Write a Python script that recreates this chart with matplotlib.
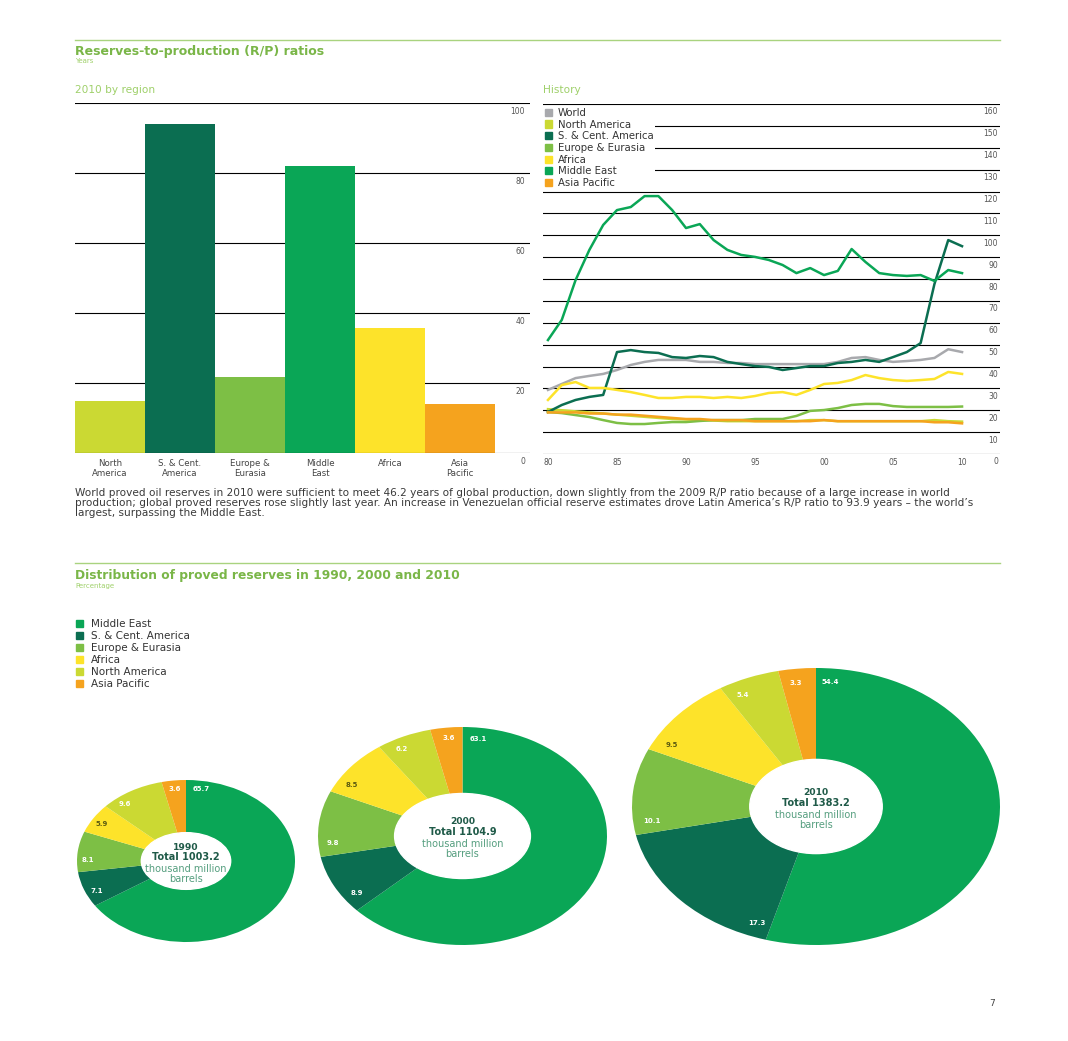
import numpy as np
import matplotlib.pyplot as plt
from matplotlib.patches import Ellipse, Patch

# colours
c_me = '#0aa656'
c_sc = '#0b6e51'
c_ee = '#7dbf45'
c_af = '#fde32a'
c_na = '#cbd933'
c_ap = '#f5a31e'
c_wo = '#a8a9ad'
c_title = '#7ab648'
c_light = '#9fd06a'

# bar chart: 2010 by region
regions = ['North\nAmerica', 'S. & Cent.\nAmerica', 'Europe &\nEurasia', 'Middle\nEast', 'Africa', 'Asia\nPacific']
rp_2010 = [14.8, 93.9, 21.7, 82.0, 35.8, 14.0]
bar_colors = [c_na, c_sc, c_ee, c_me, c_af, c_ap]

# history 1980-2010
years = list(range(1980, 2011))
hist_world = [29.3, 32.0, 34.7, 35.7, 36.6, 38.4, 40.7, 42.1, 43.0, 43.0, 43.0, 42.1, 42.1, 41.6, 41.6,
              41.1, 41.1, 41.1, 41.1, 41.1, 41.1, 42.1, 43.9, 44.3, 43.0, 42.1, 42.5, 43.0, 43.9, 47.9, 46.6]
hist_na = [20.5, 20.0, 19.5, 19.0, 18.5, 18.0, 17.5, 17.0, 16.5, 16.0, 15.8, 15.5, 15.3, 15.0, 15.0,
           15.0, 15.0, 15.0, 15.0, 15.5, 15.5, 15.0, 15.0, 15.0, 15.0, 15.0, 15.0, 15.0, 15.5, 15.0, 14.8]
hist_sc = [19.2, 22.4, 24.7, 26.1, 27.0, 46.6, 47.5, 46.6, 46.2, 44.3, 43.9, 44.8, 44.3, 42.1, 41.1,
           40.2, 39.8, 38.4, 39.3, 40.2, 40.2, 41.6, 42.1, 43.0, 42.1, 44.3, 46.6, 50.7, 77.7, 97.8, 95.0]
hist_ee = [19.2, 18.7, 17.8, 16.9, 15.5, 14.2, 13.7, 13.7, 14.2, 14.6, 14.6, 15.1, 15.5, 15.5, 15.5,
           16.0, 16.0, 16.0, 17.4, 19.7, 20.1, 21.0, 22.4, 22.9, 22.9, 21.9, 21.5, 21.5, 21.5, 21.5, 21.7]
hist_af = [24.7, 31.5, 32.9, 30.2, 30.2, 29.3, 28.3, 27.0, 25.6, 25.6, 26.1, 26.1, 25.6, 26.1, 25.6,
           26.5, 27.9, 28.3, 27.0, 29.3, 32.0, 32.5, 33.8, 36.1, 34.7, 33.8, 33.4, 33.8, 34.3, 37.5, 36.6]
hist_me = [52.1, 61.3, 79.5, 93.3, 104.7, 111.5, 112.9, 117.9, 117.9, 111.5, 103.3, 105.1, 97.8, 93.3, 91.0,
           90.1, 88.7, 86.4, 82.7, 85.0, 81.8, 83.7, 93.7, 87.8, 82.7, 81.8, 81.4, 81.8, 79.1, 84.1, 82.7]
hist_ap = [19.0, 19.0, 19.0, 18.5, 18.5, 18.0, 18.0, 17.5, 17.0, 16.5, 16.0, 16.0, 15.5, 15.5, 15.5,
           15.0, 15.0, 15.0, 15.0, 15.0, 15.5, 15.0, 15.0, 15.0, 15.0, 15.0, 15.0, 15.0, 14.5, 14.5, 14.0]
hist_names = ['World', 'North America', 'S. & Cent. America', 'Europe & Eurasia', 'Africa', 'Middle East', 'Asia Pacific']
hist_series = [hist_world, hist_na, hist_sc, hist_ee, hist_af, hist_me, hist_ap]
hist_colors = [c_wo, c_na, c_sc, c_ee, c_af, c_me, c_ap]

# distribution of proved reserves (%)
dist_names = ['Middle East', 'S. & Cent. America', 'Europe & Eurasia', 'Africa', 'North America', 'Asia Pacific']
dist_colors = [c_me, c_sc, c_ee, c_af, c_na, c_ap]
share_1990 = [65.7, 7.1, 8.1, 5.9, 9.6, 3.6]
share_2000 = [63.1, 8.9, 9.8, 8.5, 6.2, 3.6]
share_2010 = [54.4, 17.3, 10.1, 9.5, 5.4, 3.3]
totals = {'1990': '1003.2', '2000': '1104.9', '2010': '1383.2'}

plt.rcParams['font.family'] = ['DejaVu Sans']
W, H = 1068, 1041
fig = plt.figure(figsize=(W / 100, H / 100), dpi=100, facecolor='white')


def fx(x):
    return x / W


def fy(y):
    return 1 - y / H


# headers
fig.add_artist(plt.Line2D([fx(75), fx(1000)], [fy(40), fy(40)], color='#a9d37f', lw=1.0))
fig.text(fx(75), fy(51), 'Reserves-to-production (R/P) ratios', color=c_title, fontsize=9.0,
         fontweight='bold', va='center')
fig.text(fx(75), fy(61), 'Years', color=c_light, fontsize=5, va='center')
fig.text(fx(75), fy(90), '2010 by region', color=c_light, fontsize=7.6, va='center')
fig.text(fx(543), fy(90), 'History', color=c_light, fontsize=7.6, va='center')

# bar chart
ax1 = fig.add_axes([fx(75), fy(453), fx(530) - fx(75), fy(103) - fy(453)])
x = np.arange(len(regions))
ax1.bar(x, rp_2010, width=1.0, color=bar_colors, zorder=2)
ax1.set_xlim(-0.5, 6.0)
ax1.set_ylim(0, 100)
for v in [20, 40, 60, 80, 100]:
    ax1.axhline(v, color='black', lw=0.8, zorder=1)
for v in [0, 20, 40, 60, 80, 100]:
    ax1.text(5.93, v - 1.0, str(v), ha='right', va='top', fontsize=5.5, color='#555555')
ax1.axhline(0, color='black', lw=0.8, zorder=3)
ax1.set_xticks(x)
ax1.set_xticklabels(regions, fontsize=6.2, color='#444444', linespacing=1.25)
ax1.tick_params(axis='x', length=0, pad=4)
ax1.set_yticks([])
for s in ax1.spines.values():
    s.set_visible(False)
ax1.patch.set_alpha(0)

# history lines
ax2 = fig.add_axes([fx(543), fy(454), fx(1000) - fx(543), fy(104) - fy(454)])
ax2.set_xlim(1979.64, 2012.75)
ax2.set_ylim(0, 160)
for v in range(10, 170, 10):
    ax2.axhline(v, color='black', lw=0.8, zorder=1)
ax2.axhline(0, color='black', lw=0.8, zorder=1)
for v in range(0, 170, 10):
    ax2.text(2012.6, v - 1.6, str(v), ha='right', va='top', fontsize=5.5, color='#555555')
for name, vals, col in zip(hist_names, hist_series, hist_colors):
    ax2.plot(years, vals, color=col, lw=1.8, label=name, zorder=3)
ax2.set_xticks([1980, 1985, 1990, 1995, 2000, 2005, 2010])
ax2.set_xticklabels(['80', '85', '90', '95', '00', '05', '10'], fontsize=5.5, color='#555555')
ax2.tick_params(axis='x', length=0, pad=3)
ax2.set_yticks([])
for s in ax2.spines.values():
    s.set_visible(False)
handles = [Patch(color=c) for c in hist_colors]
leg = ax2.legend(handles, hist_names, loc='upper left', bbox_to_anchor=(0.0, 0.995), fontsize=7.3,
                 frameon=True, handlelength=0.7, handleheight=0.7, handletextpad=0.55,
                 labelspacing=0.17, borderaxespad=0, borderpad=0.2)
leg.get_frame().set_facecolor('white')
leg.get_frame().set_edgecolor('none')
leg.get_frame().set_alpha(1)
leg.get_frame().set_boxstyle('square', pad=0)
leg.set_zorder(5)
for t in leg.get_texts():
    t.set_color('#333333')

# paragraph
para = ("World proved oil reserves in 2010 were sufficient to meet 46.2 years of global production, down slightly from the 2009 R/P ratio because of a large increase in world\n"
        "production; global proved reserves rose slightly last year. An increase in Venezuelan official reserve estimates drove Latin America\u2019s R/P ratio to 93.9 years \u2013 the world\u2019s\n"
        "largest, surpassing the Middle East.")
fig.text(fx(75), fy(488), para, fontsize=7.6, color='#3a3a3a', va='top', linespacing=0.98)

# second section
fig.add_artist(plt.Line2D([fx(75), fx(1000)], [fy(563), fy(563)], color='#a9d37f', lw=1.0))
fig.text(fx(75), fy(575), 'Distribution of proved reserves in 1990, 2000 and 2010', color=c_title,
         fontsize=8.8, fontweight='bold', va='center')
fig.text(fx(75), fy(586), 'Percentage', color=c_light, fontsize=5, va='center')
leg2 = fig.legend([Patch(color=c) for c in dist_colors], dist_names, loc='upper left',
                  bbox_to_anchor=(fx(76), fy(619)), fontsize=7.5, frameon=False, handlelength=0.7,
                  handleheight=0.7, handletextpad=0.75, labelspacing=0.2, borderaxespad=0, borderpad=0)
for t in leg2.get_texts():
    t.set_color('#333333')

# donuts: (year, shares, pixel box, hole half-size in axes units, label angle offset)
donuts = [
    ('1990', share_1990, (77, 780, 295, 942), (0.41, 0.35), 9),
    ('2000', share_2000, (318, 727, 607, 945), (0.47, 0.39), 7),
    ('2010', share_2010, (632, 668, 1000, 945), (0.36, 0.34), 5),
]
for year, shares, (l, t, r, b), (hw, hh), off in donuts:
    ax = fig.add_axes([fx(l), fy(b), fx(r) - fx(l), fy(t) - fy(b)])
    ax.pie(shares, colors=dist_colors, startangle=90, counterclock=False, radius=1.0,
           wedgeprops=dict(linewidth=0))
    ax.set_aspect('auto')
    ax.set_xlim(-1, 1)
    ax.set_ylim(-1, 1)
    ax.add_patch(Ellipse((0, 0), 2 * hw, 2 * hh, color='white', zorder=5))
    start = 90.0
    for val, col in zip(shares, dist_colors):
        span = val * 3.6
        ang = np.radians(start - min(off, span / 2))
        tc = '#5a5a10' if col == c_af else 'white'
        ax.text(0.9 * np.cos(ang), 0.9 * np.sin(ang), f'{val:.1f}', ha='center', va='center',
                fontsize=5.0, fontweight='bold', color=tc, zorder=6)
        start -= span
    ry = (b - t) / 2
    ax.text(0, 14 / ry, year, ha='center', va='center', fontsize=6.6, fontweight='bold', color='#1f5a48', zorder=6)
    ax.text(0, 4 / ry, 'Total ' + totals[year], ha='center', va='center', fontsize=7.0, fontweight='bold',
            color='#1f5a48', zorder=6)
    ax.text(0, -8 / ry, 'thousand million', ha='center', va='center', fontsize=7.0,
            color='#559e7f', zorder=6)
    ax.text(0, -18 / ry, 'barrels', ha='center', va='center', fontsize=7.0,
            color='#559e7f', zorder=6)

fig.text(fx(995), fy(1003), '7', fontsize=6.5, color='#444444', ha='right', va='center')

fig.savefig('out.png', dpi=100, facecolor='white')
